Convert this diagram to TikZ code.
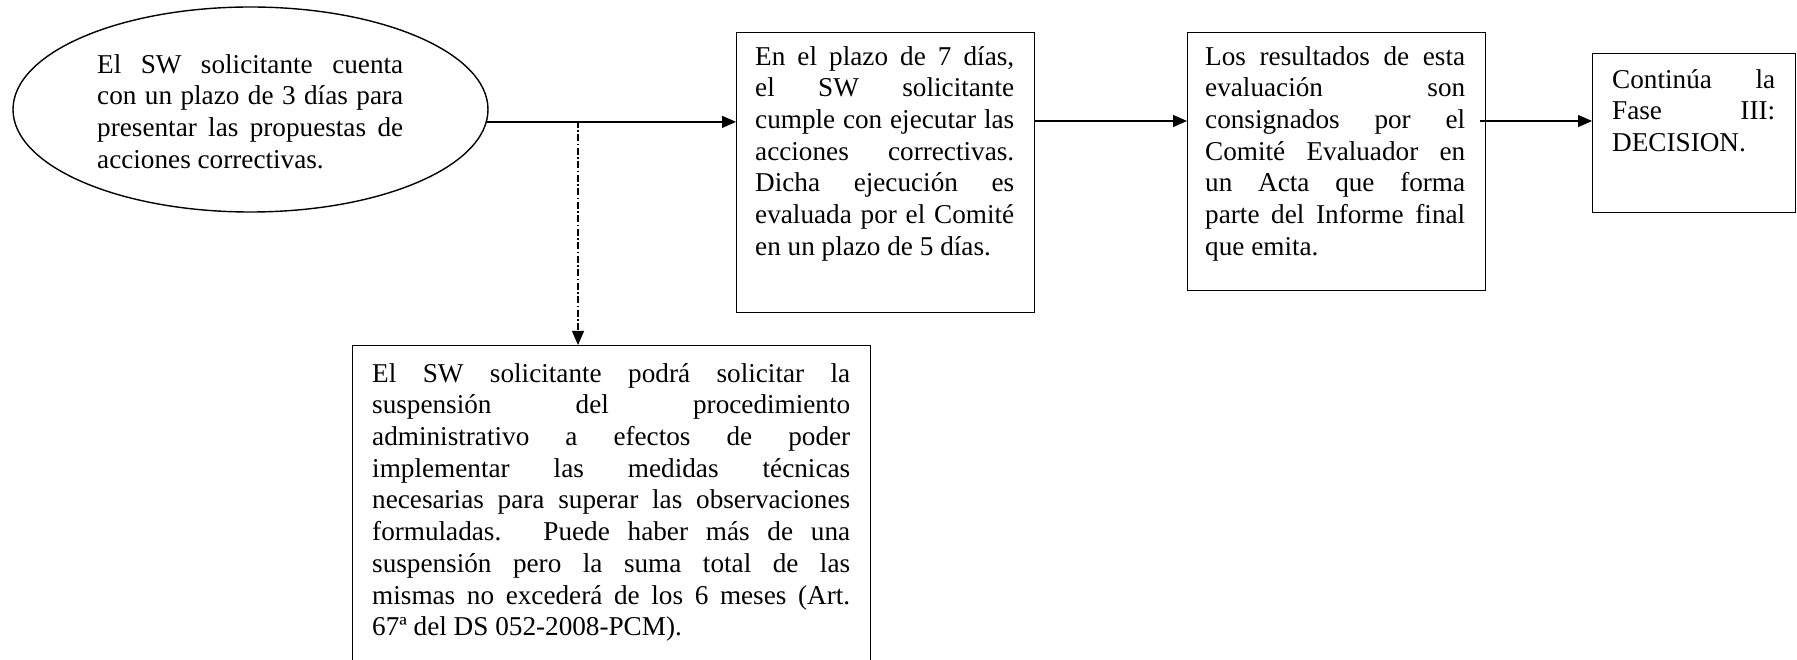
\documentclass[tikz,border=0pt]{standalone}
\usepackage{fontspec}
\setmainfont{Liberation Serif}
\usetikzlibrary{arrows.meta,shapes.geometric}
\tolerance=10000
\hyphenpenalty=10000
\exhyphenpenalty=10000
\tikzset{
  shapebox/.style={draw, line width=1.4pt, rectangle, inner sep=0pt, anchor=north west},
  oval/.style={draw, line width=1.4pt, ellipse, inner sep=0pt},
  txt/.style={inner sep=0pt, anchor=north west, align=justify,
    font=\fontsize{27.2}{31.7}\selectfont},
  arr/.style={line width=1.3pt, -{Triangle[length=14pt,width=12pt]}},
  dd/.style={line width=1.2pt, dash pattern=on 7pt off 2.5pt on 1.5pt off 2.5pt, -{Triangle[length=14pt,width=12pt]}}
}
\begin{document}
\begin{tikzpicture}[x=1pt,y=-1pt]
\useasboundingbox (0,0) rectangle (1797,660);
% ellipse
\node[oval, minimum width=475pt, minimum height=205pt] (ell) at (250.5,109.5) {};
\node[txt, text width=306pt] (tell) at (97,73-22.19) {\strut El SW solicitante cuenta\linebreak con un plazo de 3 días para\linebreak presentar las propuestas de\linebreak acciones correctivas.};
% box 2
\node[shapebox, minimum width=298pt, minimum height=280pt] (b2) at (736,32) {};
\node[txt, text width=259pt] (t2) at (755,65-22.19) {\strut En el plazo de 7 días,\linebreak el SW solicitante\linebreak cumple con ejecutar las\linebreak acciones correctivas.\linebreak Dicha ejecución es\linebreak evaluada por el Comité\linebreak en un plazo de 5 días.};
% box 3
\node[shapebox, minimum width=298pt, minimum height=258pt] (b3) at (1187,32) {};
\node[txt, text width=260pt] (t3) at (1205,65-22.19) {\strut Los resultados de esta\linebreak evaluación son\linebreak consignados por el\linebreak Comité Evaluador en\linebreak un Acta que forma\linebreak parte del Informe final\linebreak que emita.};
% box 5
\node[shapebox, minimum width=203pt, minimum height=159pt] (b5) at (1592,53) {};
\node[txt, text width=163pt] (t5) at (1612,88-22.19) {\strut Continúa la\linebreak Fase III:\linebreak DECISION.};
% box 4
\node[shapebox, minimum width=518pt, minimum height=330pt] (b4) at (352,345) {};
\node[txt, text width=478pt] (t4) at (372,382-22.19) {\strut El SW solicitante podrá solicitar la\linebreak suspensión del procedimiento\linebreak administrativo a efectos de poder\linebreak implementar las medidas técnicas\linebreak necesarias para superar las observaciones\linebreak formuladas. Puede haber más de una\linebreak suspensión pero la suma total de las\linebreak mismas no excederá de los 6 meses (Art.\linebreak 67ª del DS 052-2008-PCM).};
% connectors
\coordinate (j) at (578,121);
\draw[arr] (ell.-3) -- (ell.-3 -| b2.west);
\draw[dd] (j) -- (j |- b4.north);
\draw[arr] (b2.east |- j) -- (b3.west |- j);
\draw[arr] ([xshift=-6pt]b3.east |- j) -- (b5.west |- j);
\end{tikzpicture}
\end{document}
